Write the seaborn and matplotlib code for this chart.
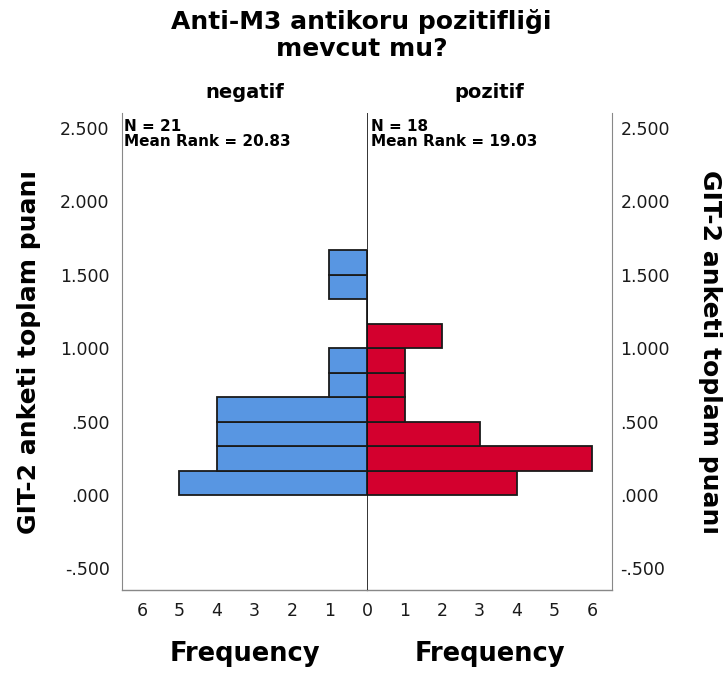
import numpy as np
import pandas as pd
import matplotlib
matplotlib.use("Agg")
import matplotlib.pyplot as plt
import seaborn as sns

sns.set_style("white")
plt.rcParams['font.family'] = ['DejaVu Sans']
plt.rcParams['text.color'] = 'black'

# Data (bin midpoints of GIT-2 score, frequencies per group)
bin_mid = [0.0833, 0.25, 0.4167, 0.5833, 0.75, 0.9167, 1.0833, 1.25, 1.4167, 1.5833]
neg_counts = [5, 4, 4, 4, 1, 1, 0, 0, 1, 1]
pos_counts = [4, 6, 3, 1, 1, 1, 2, 0, 0, 0]
groups = ["negatif", "pozitif"]
stats = ["N = 21\nMean Rank = 20.83", "N = 18\nMean Rank = 19.03"]
y_ticks = [-0.5, 0.0, 0.5, 1.0, 1.5, 2.0, 2.5]
y_ticklabels = ["-.500", ".000", ".500", "1.000", "1.500", "2.000", "2.500"]
x_ticks_left = [1, 2, 3, 4, 5, 6]
x_ticks_right = [0, 1, 2, 3, 4, 5, 6]

title = "Anti-M3 antikoru pozitifliği\nmevcut mu?"
ylabel = "GIT-2 anketi toplam puanı"
xlabel = "Frequency"

colors = ["#5896E2", "#D3002E"]
edge = "#1a1a1a"
tick_col = "#1a1a1a"

W, H = 723, 677
fig = plt.figure(figsize=(W / 100, H / 100), dpi=100)

def fx(px):
    return px / W

def fy(py):
    return 1 - py / H

left_px, mid_px, right_px = 122, 367, 612
top_px, bot_px = 113, 590
axL = fig.add_axes([fx(left_px), fy(bot_px), fx(mid_px - left_px), (bot_px - top_px) / H])
axR = fig.add_axes([fx(mid_px), fy(bot_px), fx(right_px - mid_px), (bot_px - top_px) / H])

ylim = (-0.647, 2.602)
xmax = 6.53
binw = 1 / 6

for ax, counts, col, grp, xt in zip([axL, axR], [neg_counts, pos_counts], colors, groups,
                                    [x_ticks_left, x_ticks_right]):
    df = pd.DataFrame({"y": bin_mid, "w": counts})
    sns.histplot(data=df, y="y", weights="w", binwidth=binw, binrange=(0, 10 * binw),
                 color=col, alpha=1.0, edgecolor=edge, linewidth=1.3, ax=ax)
    ax.set_ylim(*ylim)
    ax.set_xticks(xt)
    ax.set_xticklabels([str(t) for t in xt], fontsize=12.5, color=tick_col)
    ax.set_xlabel(xlabel, fontsize=18.5, fontweight="bold", labelpad=15, color="black")
    ax.tick_params(axis="x", length=0, pad=9)
    ax.set_title(grp, fontsize=14, fontweight="bold", pad=11, color="black")
    ax.spines["top"].set_visible(False)
    ax.spines["bottom"].set_color("#888888")
    ax.spines["bottom"].set_linewidth(1.0)

# left panel
axL.set_xlim(xmax, 0)
axL.spines["right"].set_visible(False)
axL.spines["left"].set_color("#888888")
axL.set_yticks(y_ticks)
axL.set_yticklabels(y_ticklabels, fontsize=12.5, color=tick_col)
axL.tick_params(axis="y", length=0, pad=9)
axL.set_ylabel(ylabel, fontsize=18, fontweight="bold", labelpad=14, color="black")
axL.text(0.01, 0.988, stats[0], transform=axL.transAxes, ha="left", va="top",
         fontsize=11, fontweight="bold", linespacing=1.0)

# right panel
axR.set_xlim(0, xmax)
axR.spines["left"].set_visible(False)
axR.spines["right"].set_visible(True)
axR.spines["right"].set_color("#888888")
axR.yaxis.tick_right()
axR.yaxis.set_label_position("right")
axR.set_yticks(y_ticks)
axR.set_yticklabels(y_ticklabels, fontsize=12.5, color=tick_col)
axR.tick_params(axis="y", length=0, pad=6, left=False, labelleft=False, right=False, labelright=True)
axR.set_ylabel(ylabel, fontsize=18, fontweight="bold", labelpad=20, rotation=270,
               va="bottom", color="black")
axR.text(0.015, 0.988, stats[1], transform=axR.transAxes, ha="left", va="top",
         fontsize=11, fontweight="bold", linespacing=1.0)

# central zero line
axR.axvline(0, color="#111111", linewidth=1.2, zorder=5)

fig.text(0.5, fy(35), title, ha="center", va="center", fontsize=18, fontweight="bold",
         linespacing=1.15)

fig.savefig("out.png", dpi=100)
